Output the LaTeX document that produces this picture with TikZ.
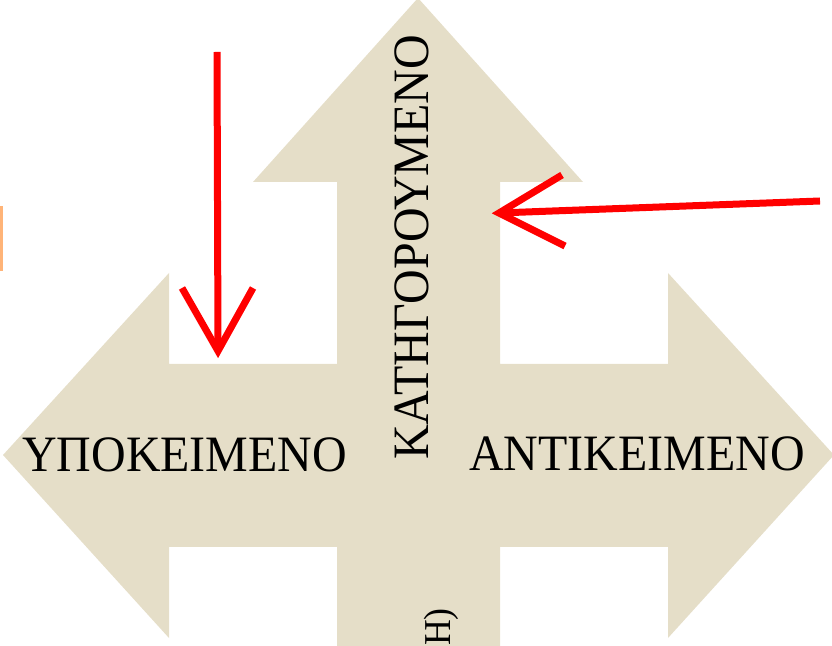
\documentclass[tikz,border=0pt]{standalone}
\usepackage{fontspec}
\setmainfont{Liberation Serif}
\newfontfamily\lblfont[FakeStretch=0.94]{Liberation Serif}
\definecolor{beige}{RGB}{229,222,200}
\definecolor{marker}{RGB}{255,180,120}
\begin{document}
\begin{tikzpicture}[x=1pt,y=1pt,
  lbl/.style={inner sep=0pt,font=\lblfont\fontsize{51}{60}\selectfont},
  redarrow/.style={draw=red,line width=7pt,line cap=butt,line join=miter}]
\useasboundingbox (0,0) rectangle (832,645);
% three-way arrow shape
\fill[beige] (418,647) -- (583,463) -- (500,463) -- (500,281) -- (668,281) -- (668,372)
  -- (834,190) -- (668,7) -- (668,98) -- (500,98) -- (500,-5) -- (337,-5) -- (337,98)
  -- (169,98) -- (169,7) -- (3,190) -- (169,372) -- (169,281) -- (337,281) -- (337,463)
  -- (253,463) -- cycle;
% small orange mark
\fill[marker] (0,374) rectangle (3,439);
% labels
\node[lbl,anchor=base west] (subj) at (22,173) {ΥΠΟΚΕΙΜΕΝΟ};
\node[lbl,anchor=base west] (obj) at (469,174) {ΑΝΤΙΚΕΙΜΕΝΟ};
\node[lbl,anchor=base west,rotate=90] (pred) at (428,185) {ΚΑΤΗΓΟΡΟΥΜΕΝΟ};
\node[inner sep=0pt,font=\lblfont\fontsize{38}{44}\selectfont,anchor=base west,rotate=90] (cut) at (450,-1) {Η)};
% red arrow 1 (down)
\coordinate (a1s) at (217,593);
\coordinate (a1t) at (218,294);
\coordinate (a1l) at (182,357);
\coordinate (a1r) at (253,357);
\draw[redarrow] (a1s) -- (a1t);
\draw[redarrow] (a1l) -- (a1t) -- (a1r);
% red arrow 2 (left)
\coordinate (a2s) at (820,444);
\coordinate (a2t) at (499,432);
\coordinate (a2u) at (562,470);
\coordinate (a2d) at (565,399);
\draw[redarrow] (a2s) -- (a2t);
\draw[redarrow] (a2u) -- (a2t) -- (a2d);
\end{tikzpicture}
\end{document}
